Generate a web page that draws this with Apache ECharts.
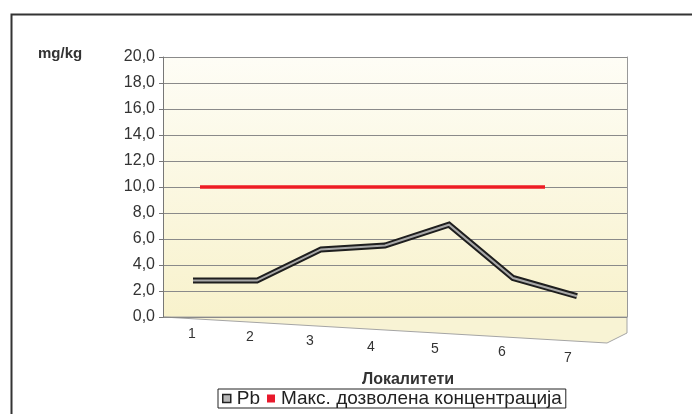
<!DOCTYPE html>
<html>
<head>
<meta charset="utf-8">
<script src="https://cdn.jsdelivr.net/npm/echarts@6/dist/echarts.min.js"></script>
<style>html,body{margin:0;padding:0;background:#fff}#c{width:692px;height:414px}</style>
</head>
<body>
<div id="c"></div>
<script>
const categories = ['1', '2', '3', '4', '5', '6', '7'];
const pbValues = [2.8, 2.8, 5.2, 5.5, 7.1, 3.0, 1.6];
const maxAllowed = [10, 10, 10, 10, 10, 10, 10];
const yTicks = [0, 2, 4, 6, 8, 10, 12, 14, 16, 18, 20];
const seriesNames = ['Pb', 'Макс. дозволена концентрација'];
const yUnit = 'mg/kg';
const xName = 'Локалитети';

const font = 'Arial, "Liberation Sans", sans-serif';
const labelPads = [6, 9, 13, 19, 21, 24, 30];
const labelShift = [2, 14, 22, 28, 28, 22, 18];
const rich = {};
categories.forEach((c, i) => {
  rich['l' + i] = { fontSize: 14, fontFamily: font, color: '#333', padding: [labelPads[i], labelShift[i], 0, 0] };
});

const chart = echarts.init(document.getElementById('c'), null, { renderer: 'canvas' });
chart.setOption({
  animation: false,
  backgroundColor: '#fff',
  title: {
    text: yUnit, left: 33, top: 41,
    textStyle: { fontSize: 15, fontWeight: 'bold', fontFamily: font, color: '#333' }
  },
  graphic: [
    { type: 'rect', left: 9, top: 12, shape: { width: 700, height: 420 },
      style: { fill: 'none', stroke: '#333', lineWidth: 2 }, silent: true, z: 0 },
    { type: 'polygon', shape: { points: [[163, 317], [627, 317], [627, 333], [607, 343]] },
      style: { fill: '#f8f3d4', stroke: '#a5a5a5', lineWidth: 1 }, silent: true, z: 0 }
  ],
  legend: {
    data: [
      { name: seriesNames[0], itemStyle: { color: '#b8b8b8', borderColor: '#222', borderWidth: 1.5 } },
      { name: seriesNames[1], itemStyle: { color: '#e8192c' } }
    ],
    left: 218, top: 389, icon: 'rect', itemWidth: 8, itemHeight: 8, itemGap: 7,
    padding: [0, 4, 0, 4], borderColor: '#222', borderWidth: 1, backgroundColor: '#fff',
    textStyle: { fontSize: 19, fontFamily: font, color: '#222', padding: [0, 0, 0, 1] }
  },
  grid: [
    { left: 163, right: 65, top: 57, bottom: 97, show: true, borderWidth: 0,
      backgroundColor: { type: 'linear', x: 0, y: 0, x2: 0, y2: 1,
        colorStops: [{ offset: 0, color: '#fefdf6' }, { offset: 1, color: '#f8f2cc' }] } },
    { left: 193, right: 115, top: 57, bottom: 97 },
    { left: 200, right: 147, top: 57, bottom: 97 }
  ],
  xAxis: [
    { gridIndex: 0, type: 'category', data: categories, show: false },
    { gridIndex: 1, type: 'category', data: categories, boundaryGap: false,
      name: xName, nameLocation: 'middle', nameGap: 55,
      nameTextStyle: { fontSize: 16, fontWeight: 'bold', fontFamily: font, color: '#333', padding: [0, 0, 0, 46] },
      axisLine: { show: false }, axisTick: { show: false },
      axisLabel: { margin: 4, formatter: (v, i) => '{l' + i + '|' + v + '}', rich: rich } },
    { gridIndex: 2, type: 'category', data: categories, boundaryGap: false, show: false }
  ],
  yAxis: [
    { gridIndex: 0, type: 'value', min: 0, max: 20, interval: 2,
      axisLine: { show: true, lineStyle: { color: '#777' } },
      axisTick: { show: true, length: 4, lineStyle: { color: '#777' } },
      axisLabel: { margin: 8, fontSize: 16, fontFamily: font, color: '#333',
        formatter: v => v.toFixed(1).replace('.', ',') },
      splitLine: { show: true, lineStyle: { color: '#8a8a8a', width: 1 } } },
    { gridIndex: 0, type: 'value', min: 0, max: 20, position: 'right',
      axisLine: { show: true, lineStyle: { color: '#999' } }, axisTick: { show: false },
      axisLabel: { show: false }, splitLine: { show: false } },
    { gridIndex: 1, type: 'value', min: 0, max: 20, show: false, splitLine: { show: false } },
    { gridIndex: 2, type: 'value', min: 0, max: 20, show: false, splitLine: { show: false } }
  ],
  series: [
    { name: seriesNames[1], type: 'line', xAxisIndex: 2, yAxisIndex: 3, data: maxAllowed,
      symbol: 'none', lineStyle: { color: '#ee1c24', width: 3.5 }, itemStyle: { color: '#e8192c' }, z: 3 },
    { name: seriesNames[0], type: 'line', xAxisIndex: 1, yAxisIndex: 2, data: pbValues,
      symbol: 'none', lineStyle: { color: '#1e1e1e', width: 6, join: 'miter' }, itemStyle: { color: '#b8b8b8' }, z: 4 },
    { name: seriesNames[0], type: 'line', xAxisIndex: 1, yAxisIndex: 2, data: pbValues,
      symbol: 'none', lineStyle: { color: '#a8a8a8', width: 2, join: 'miter' }, itemStyle: { color: '#b8b8b8' }, z: 5 }
  ]
});
</script>
</body>
</html>
